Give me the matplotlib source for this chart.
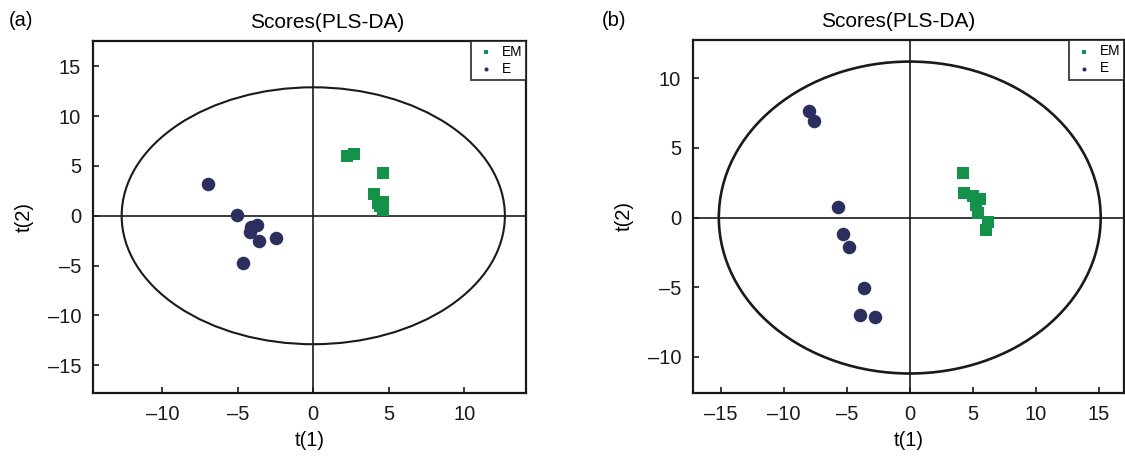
import matplotlib
matplotlib.use("Agg")
import matplotlib.pyplot as plt
from matplotlib.patches import Ellipse

plt.rcParams['font.family'] = ['Liberation Sans', 'DejaVu Sans']

# Panel (a) data
a_em_x = [2.26, 2.71, 4.61, 4.04, 4.26, 4.61, 4.61, 4.45]
a_em_y = [6.00, 6.20, 4.33, 2.15, 1.25, 1.41, 0.57, 1.00]
a_e_x = [-6.98, -5.03, -3.76, -4.14, -4.21, -3.61, -2.50, -4.69]
a_e_y = [3.16, 0.07, -0.94, -1.17, -1.67, -2.58, -2.21, -4.79]
a_ellipse = (12.7, 12.9)
a_xticks = [-10, -5, 0, 5, 10]
a_yticks = [-15, -10, -5, 0, 5, 10, 15]

# Panel (b) data
b_em_x = [4.22, 4.30, 5.02, 5.55, 5.23, 5.41, 6.20, 6.08]
b_em_y = [3.22, 1.78, 1.57, 1.31, 0.90, 0.30, -0.30, -0.90]
b_e_x = [-7.98, -7.61, -5.73, -5.33, -4.86, -3.65, -3.94, -2.75]
b_e_y = [7.65, 6.91, 0.78, -1.21, -2.14, -5.09, -7.00, -7.13]
b_ellipse = (15.15, 11.2)
b_xticks = [-15, -10, -5, 0, 5, 10, 15]
b_yticks = [-10, -5, 0, 5, 10]

GREEN = '#14924a'
NAVY = '#2c2f5e'
FS = 14.5

W, H = 1125, 461
fig = plt.figure(figsize=(W / 100, H / 100), dpi=100)

def make_panel(rect, em_x, em_y, e_x, e_y, ell, xlim, ylim, xticks, yticks,
               label, label_x, title_x, lw_ell):
    ax = fig.add_axes(rect)
    ax.scatter(em_x, em_y, marker='s', s=80, color=GREEN, label='EM', zorder=3, linewidths=0)
    ax.scatter(e_x, e_y, marker='o', s=95, color=NAVY, label='E', zorder=3, linewidths=0)
    ax.add_patch(Ellipse((0, 0), 2 * ell[0], 2 * ell[1], fill=False, ec='#1a1a1a', lw=lw_ell, zorder=2))
    ax.axhline(0, color='#1a1a1a', lw=1.2, zorder=1)
    ax.axvline(0, color='#1a1a1a', lw=1.2, zorder=1)
    ax.set_xlim(*xlim)
    ax.set_ylim(*ylim)
    ax.set_xticks(xticks)
    ax.set_yticks(yticks)
    ax.set_xticklabels([f'\u2013{abs(t)}' if t < 0 else str(t) for t in xticks])
    ax.set_yticklabels([f'\u2013{abs(t)}' if t < 0 else str(t) for t in yticks])
    ax.tick_params(direction='in', length=4, width=1.2, labelsize=FS, pad=8.5, colors='#1a1a1a')
    for sp in ax.spines.values():
        sp.set_linewidth(1.6)
        sp.set_color('#1a1a1a')
    ax.set_xlabel('t(1)', fontsize=FS, labelpad=5)
    ax.set_ylabel('t(2)', fontsize=FS, labelpad=10)
    ax.set_title('Scores(PLS-DA)', fontsize=15, x=title_x, pad=9)
    leg = ax.legend(loc='upper right', fontsize=9.8, frameon=True, fancybox=False,
                    markerscale=0.3, handletextpad=0.3, borderpad=0.3,
                    labelspacing=0.25, handlelength=1.6, borderaxespad=0.0)
    leg.get_frame().set_edgecolor('#1a1a1a')
    leg.get_frame().set_linewidth(1.4)
    fig.text(label_x / W, 1 - 20 / H, label, fontsize=FS, ha='center', va='center')
    return ax

make_panel([93 / W, 1 - 393 / H, (526 - 93) / W, (393 - 40.5) / H],
           a_em_x, a_em_y, a_e_x, a_e_y, a_ellipse,
           (-14.6, 14.1), (-17.8, 17.6), a_xticks, a_yticks, '(a)', 21, 0.540, 1.5)
make_panel([693 / W, 1 - 393 / H, (1124 - 693) / W, (393 - 40) / H],
           b_em_x, b_em_y, b_e_x, b_e_y, b_ellipse,
           (-17.2, 17.0), (-12.6, 12.75), b_xticks, b_yticks, '(b)', 614, 0.476, 1.9)

fig.savefig('out.png', dpi=100)
